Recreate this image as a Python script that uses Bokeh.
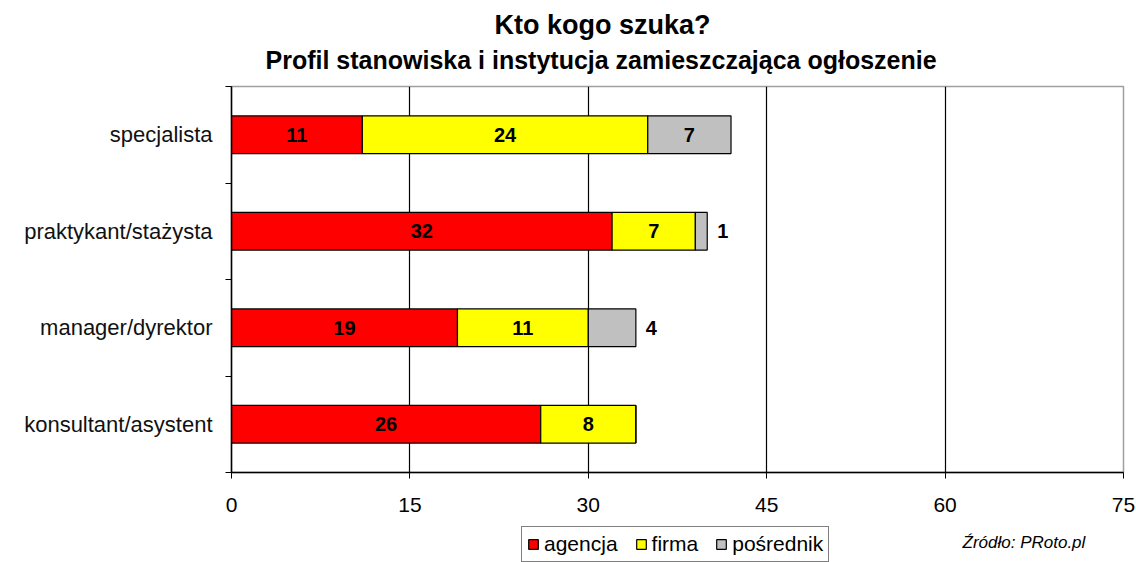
from bokeh.plotting import figure
from bokeh.models import ColumnDataSource, FixedTicker, Label, Legend, LegendItem, Range1d, Title
from bokeh.layouts import column
from bokeh.core.properties import value
from bokeh.embed import file_html
from bokeh.resources import INLINE

# ---- data ----
categories = ["specjalista", "praktykant/stażysta", "manager/dyrektor", "konsultant/asystent"]
series = ["agencja", "firma", "pośrednik"]
agencja = [11, 32, 19, 26]
firma = [24, 7, 11, 8]
posrednik = [7, 1, 4, 0]
colors = ["#ff0000", "#ffff00", "#c0c0c0"]
x_ticks = [0, 15, 30, 45, 60, 75]
title_text = "Kto kogo szuka?"
subtitle_text = "Profil stanowiska i instytucja zamieszczająca ogłoszenie"
source_text = "Źródło: PRoto.pl"

FONT = value("Liberation Sans")

# ---- layout (pixels) ----
W = 1136
H_MAIN, H_LEG = 522, 40
FL, FR, FT, FB = 231, 1123, 86, 472
X0, X1 = 0, 75
Y0, Y1 = -0.5, len(categories) - 0.5

ypos = [len(categories) - 1 - i for i in range(len(categories))]

p = figure(width=W, height=H_MAIN, x_range=Range1d(X0, X1), y_range=Range1d(Y0, Y1),
           output_backend="svg", toolbar_location=None,
           min_border_left=FL, min_border_right=W - FR,
           min_border_top=FT, min_border_bottom=H_MAIN - FB)
p.background_fill_color = "white"
p.border_fill_color = "white"
p.outline_line_color = "#a0a0a0"
p.outline_line_width = 1.5

src = ColumnDataSource(dict(y=ypos, agencja=agencja, firma=firma, posrednik=posrednik))
keys = ["agencja", "firma", "posrednik"]
rends = p.hbar_stack(keys, y="y", height=0.39, fill_color=colors,
                     line_color="black", line_width=1.2, source=src)

# segment labels
in_x, in_y, in_t = [], [], []
out_x, out_y, out_t = [], [], []
for i, y in enumerate(ypos):
    vals = [agencja[i], firma[i], posrednik[i]]
    total = sum(vals)
    left = 0
    for v in vals:
        if v >= 5:
            in_x.append(left + v / 2)
            in_y.append(y)
            in_t.append(str(v))
        elif v > 0:
            out_x.append(total)
            out_y.append(y)
            out_t.append(str(v))
        left += v

p.text(x=in_x, y=in_y, text=in_t, text_align="center", text_baseline="middle",
       text_font=FONT, text_font_style="bold", text_font_size="20px", text_color="black")
p.text(x=out_x, y=out_y, text=out_t, text_align="left", text_baseline="middle",
       x_offset=10, text_font=FONT, text_font_style="bold", text_font_size="20px",
       text_color="black")

# axes
xa = p.xaxis[0]
xa.ticker = FixedTicker(ticks=x_ticks)
xa.axis_line_color = "black"
xa.axis_line_width = 1.5
xa.major_tick_out = 6
xa.major_tick_in = 0
xa.minor_tick_out = 0
xa.minor_tick_in = 0
xa.major_tick_line_color = "black"
xa.major_label_text_font = "Liberation Sans"
xa.major_label_text_font_size = "21px"
xa.major_label_text_color = "black"
xa.major_label_standoff = 19

ya = p.yaxis[0]
ya.ticker = FixedTicker(ticks=ypos, minor_ticks=[Y0 + k for k in range(len(categories) + 1)])
ya.major_label_overrides = {y: c for y, c in zip(ypos, categories)}
ya.axis_line_color = "black"
ya.axis_line_width = 1.5
ya.major_tick_out = 0
ya.major_tick_in = 0
ya.minor_tick_out = 6
ya.minor_tick_in = 0
ya.minor_tick_line_color = "black"
ya.major_label_text_font = "Liberation Sans"
ya.major_label_text_font_size = "22px"
ya.major_label_text_color = "#111111"
ya.major_label_standoff = 13

p.xgrid.ticker = FixedTicker(ticks=[t for t in x_ticks if X0 < t < X1])
p.xgrid.grid_line_color = "black"
p.xgrid.grid_line_width = 1.2
p.ygrid.visible = False

# titles (subtitle first: it sits closest to the frame)
p.add_layout(Title(text=subtitle_text, align="left", offset=34, standoff=25,
                   text_font="Liberation Sans", text_font_style="bold",
                   text_font_size="25px", text_color="black"), "above")
p.add_layout(Title(text=title_text, align="left", offset=263, standoff=-16,
                   text_font="Liberation Sans", text_font_style="bold",
                   text_font_size="27px", text_color="black"), "above")

# ---- legend strip with source note (frame aligned with the chart's frame) ----
p2 = figure(width=W, height=H_LEG, x_range=Range1d(0, 1), y_range=Range1d(0, 1),
            output_backend="svg", toolbar_location=None,
            x_axis_location=None, y_axis_location=None, min_border=0)
p2.outline_line_color = None
p2.background_fill_color = "white"
p2.border_fill_color = "white"
p2.grid.visible = False
# legend proxies (placed outside the visible range, only their legend swatches show)
proxy_src = ColumnDataSource(dict(y=[-10], right=[1]))
dummies = [p2.hbar(y="y", right="right", height=0.5, fill_color=c, line_color="black",
                   line_width=1.2, source=proxy_src)
           for c in colors]
legend = Legend(items=[LegendItem(label=s, renderers=[r]) for s, r in zip(series, dummies)],
                orientation="horizontal", location=(521 - FL, 0),
                glyph_width=12, glyph_height=12, label_standoff=5, spacing=17,
                padding=5, margin=0, border_line_color="black", border_line_width=1.2,
                label_text_font="Liberation Sans", label_text_font_size="21px",
                label_text_color="black", background_fill_color="white")
p2.add_layout(legend, "center")
p2.add_layout(Label(x=962 - FL, y=20, x_units="screen", y_units="screen", text=source_text,
                    text_align="left", text_baseline="middle", text_font="Liberation Sans",
                    text_font_style="italic", text_font_size="17px", text_color="black"))

layout = column(p, p2, spacing=0)
open("out.html", "w").write(file_html(layout, INLINE))
